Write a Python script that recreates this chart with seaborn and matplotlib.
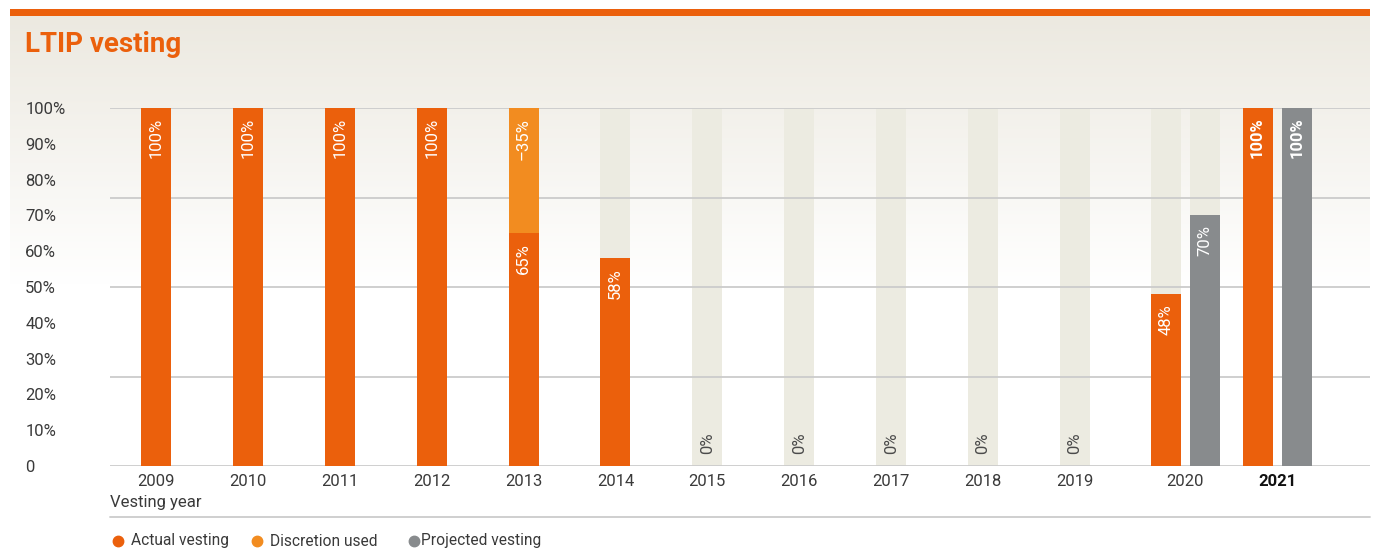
import numpy as np
import pandas as pd
import matplotlib
matplotlib.use("Agg")
import matplotlib.pyplot as plt
from matplotlib.patches import Rectangle
from matplotlib.lines import Line2D
import seaborn as sns

# ---- data -------------------------------------------------------------
years = ["2009", "2010", "2011", "2012", "2013", "2014", "2015",
         "2016", "2017", "2018", "2019", "2020", "2021"]
actual_vesting = [100, 100, 100, 100, 65, 58, 0, 0, 0, 0, 0, 48, 100]
discretion_used = [0, 0, 0, 0, 35, 0, 0, 0, 0, 0, 0, 0, 0]
projected_years = ["2020", "2021"]
projected_vesting = [70, 100]
y_ticks = [0, 10, 20, 30, 40, 50, 60, 70, 80, 90, 100]
y_tick_labels = ["0", "10%", "20%", "30%", "40%", "50%",
                 "60%", "70%", "80%", "90%", "100%"]
highlight_year = "2021"

# ---- style ------------------------------------------------------------
ORANGE = "#eb600c"
LIGHT_ORANGE = "#f28c20"
GREY = "#888b8d"
BEIGE = "#ecebe1"
GRID = "#cbcbcb"
TEXT = "#3a3a3a"

sns.set_theme(style="white")
plt.rcParams["font.family"] = ["Roboto", "DejaVu Sans"]

BAR_W = 0.326      # bar width in slot units
PAIR_SHIFT = 0.20  # extra room for years that carry two bars
PAIR_HALF = 0.213  # half distance between paired bars

# slot position of each year; paired years sit a little further right
slot = {y: i + (PAIR_SHIFT if y in projected_years else 0.0)
        for i, y in enumerate(years)}
actual_pos = [slot[y] - (PAIR_HALF if y in projected_years else 0.0)
              for y in years]
proj_pos = [slot[y] + PAIR_HALF for y in projected_years]

df_actual = pd.DataFrame({"year": years, "pos": actual_pos,
                          "actual": actual_vesting,
                          "discretion": discretion_used})
df_actual["total"] = df_actual["actual"] + df_actual["discretion"]
df_proj = pd.DataFrame({"year": projected_years, "pos": proj_pos,
                        "projected": projected_vesting})

fig = plt.figure(figsize=(13.73, 5.49), dpi=100)
W, H = 1373, 549

# ---- panel background -------------------------------------------------
bg = fig.add_axes([0, 0, 1, 1], zorder=-5)
bg.set_xlim(0, W)
bg.set_ylim(0, H)
bg.axis("off")
top_rgb = np.array(matplotlib.colors.to_rgb("#ece9e0"))
n = 256
t = np.linspace(0, 1, n)[:, None]            # 0 = bottom (white), 1 = top
grad = (1 - t) * np.ones(3) + t * top_rgb
grad = np.clip(grad, 0, 1)[:, None, :]
bg.imshow(grad, origin="lower", aspect="auto",
          extent=[10, 1370, H - 285, H - 16], interpolation="bilinear")
bg.add_patch(Rectangle((10, H - 16), 1360, 7, color=ORANGE, lw=0))

fig.text(25 / W, 1 - 52 / H, "LTIP vesting", color=ORANGE,
         fontsize=20, fontweight="bold", ha="left", va="baseline")

# ---- main axes --------------------------------------------------------
ax = fig.add_axes([110 / W, 1 - 466 / H, 1260 / W, 358 / H])
ax.set_facecolor("none")


def draw_bars(xs, hs, color, z):
    xs = np.asarray(xs, dtype=float)
    uniq = np.unique(xs)
    native = np.min(np.diff(uniq)) if len(uniq) > 1 else 1.0
    sns.barplot(x=xs, y=list(hs), native_scale=True, width=BAR_W / native,
                color=color, saturation=1, errorbar=None, ax=ax,
                zorder=z, linewidth=0)


# light backdrop for bars that stay below 100%
back_a = df_actual[df_actual["total"] < 100]
back_p = df_proj[df_proj["projected"] < 100]
back_x = list(back_a["pos"]) + list(back_p["pos"])
draw_bars(back_x, [100] * len(back_x), BEIGE, 0.5)

# discretion stacked on top of actual vesting
disc = df_actual[df_actual["discretion"] > 0]
draw_bars(disc["pos"], disc["total"], LIGHT_ORANGE, 2)
draw_bars(df_actual["pos"], df_actual["actual"], ORANGE, 3)
draw_bars(df_proj["pos"], df_proj["projected"], GREY, 3)

for v in [0, 25, 50, 75, 100]:
    ax.axhline(v, color=GRID, lw=1.3, zorder=1)

ax.set_xlim(-0.5, (1370 - 156) / 91.9)
ax.set_ylim(0, 100)
for s in ax.spines.values():
    s.set_visible(False)
ax.set_xlabel("")
ax.set_ylabel("")


def bar_label(x, v, text, weight="normal"):
    if v > 0:
        ax.annotate(text, xy=(x, v), xytext=(0, -7), textcoords="offset points",
                    rotation=90, ha="center", va="top", fontsize=12,
                    color="white", fontweight=weight, zorder=5)
    else:
        ax.annotate(text, xy=(x, 0), xytext=(0, 9), textcoords="offset points",
                    rotation=90, ha="center", va="bottom", fontsize=12,
                    color="#4a4a4a", fontweight="normal", zorder=5)


for _, r in df_actual.iterrows():
    w = "bold" if r["year"] == highlight_year else "normal"
    bar_label(r["pos"], r["actual"], f"{int(r['actual'])}%", weight=w)
    if r["discretion"] > 0:
        bar_label(r["pos"], r["total"], f"\u2013{int(r['discretion'])}%")
for _, r in df_proj.iterrows():
    w = "bold" if r["year"] == highlight_year else "normal"
    bar_label(r["pos"], r["projected"], f"{int(r['projected'])}%", weight=w)

# ticks
ax.set_xticks([slot[y] for y in years])
ax.set_xticklabels(years)
ax.tick_params(axis="x", length=0, pad=6, labelsize=12, labelcolor=TEXT)
for lbl in ax.get_xticklabels():
    if lbl.get_text() == highlight_year:
        lbl.set_fontweight("bold")
        lbl.set_color("#111111")
ax.set_yticks(y_ticks)
ax.set_yticklabels(y_tick_labels)
ax.tick_params(axis="y", length=0, pad=61, labelsize=12, labelcolor=TEXT)
for lbl in ax.get_yticklabels():
    lbl.set_ha("left")
    lbl.set_va("center_baseline")

fig.text(110 / W, 1 - 502 / H, "Vesting year", fontsize=12, color=TEXT,
         ha="left", va="center")
fig.add_artist(Line2D([110 / W, 1370 / W], [1 - 517 / H, 1 - 517 / H],
                      transform=fig.transFigure, color=GRID, lw=1.3))

# legend
legend_items = [("Actual vesting", ORANGE, 118, 131),
                ("Discretion used", LIGHT_ORANGE, 257, 270),
                ("Projected vesting", GREY, 414, 421)]
ly = 1 - 541 / H
for label, col, mx, tx in legend_items:
    fig.add_artist(Line2D([mx / W], [ly], transform=fig.transFigure,
                          marker="o", markersize=7.5, color=col, lw=0))
    fig.text(tx / W, ly, label, fontsize=11.2, color=TEXT,
             ha="left", va="center")

fig.savefig("out.png", dpi=100)
